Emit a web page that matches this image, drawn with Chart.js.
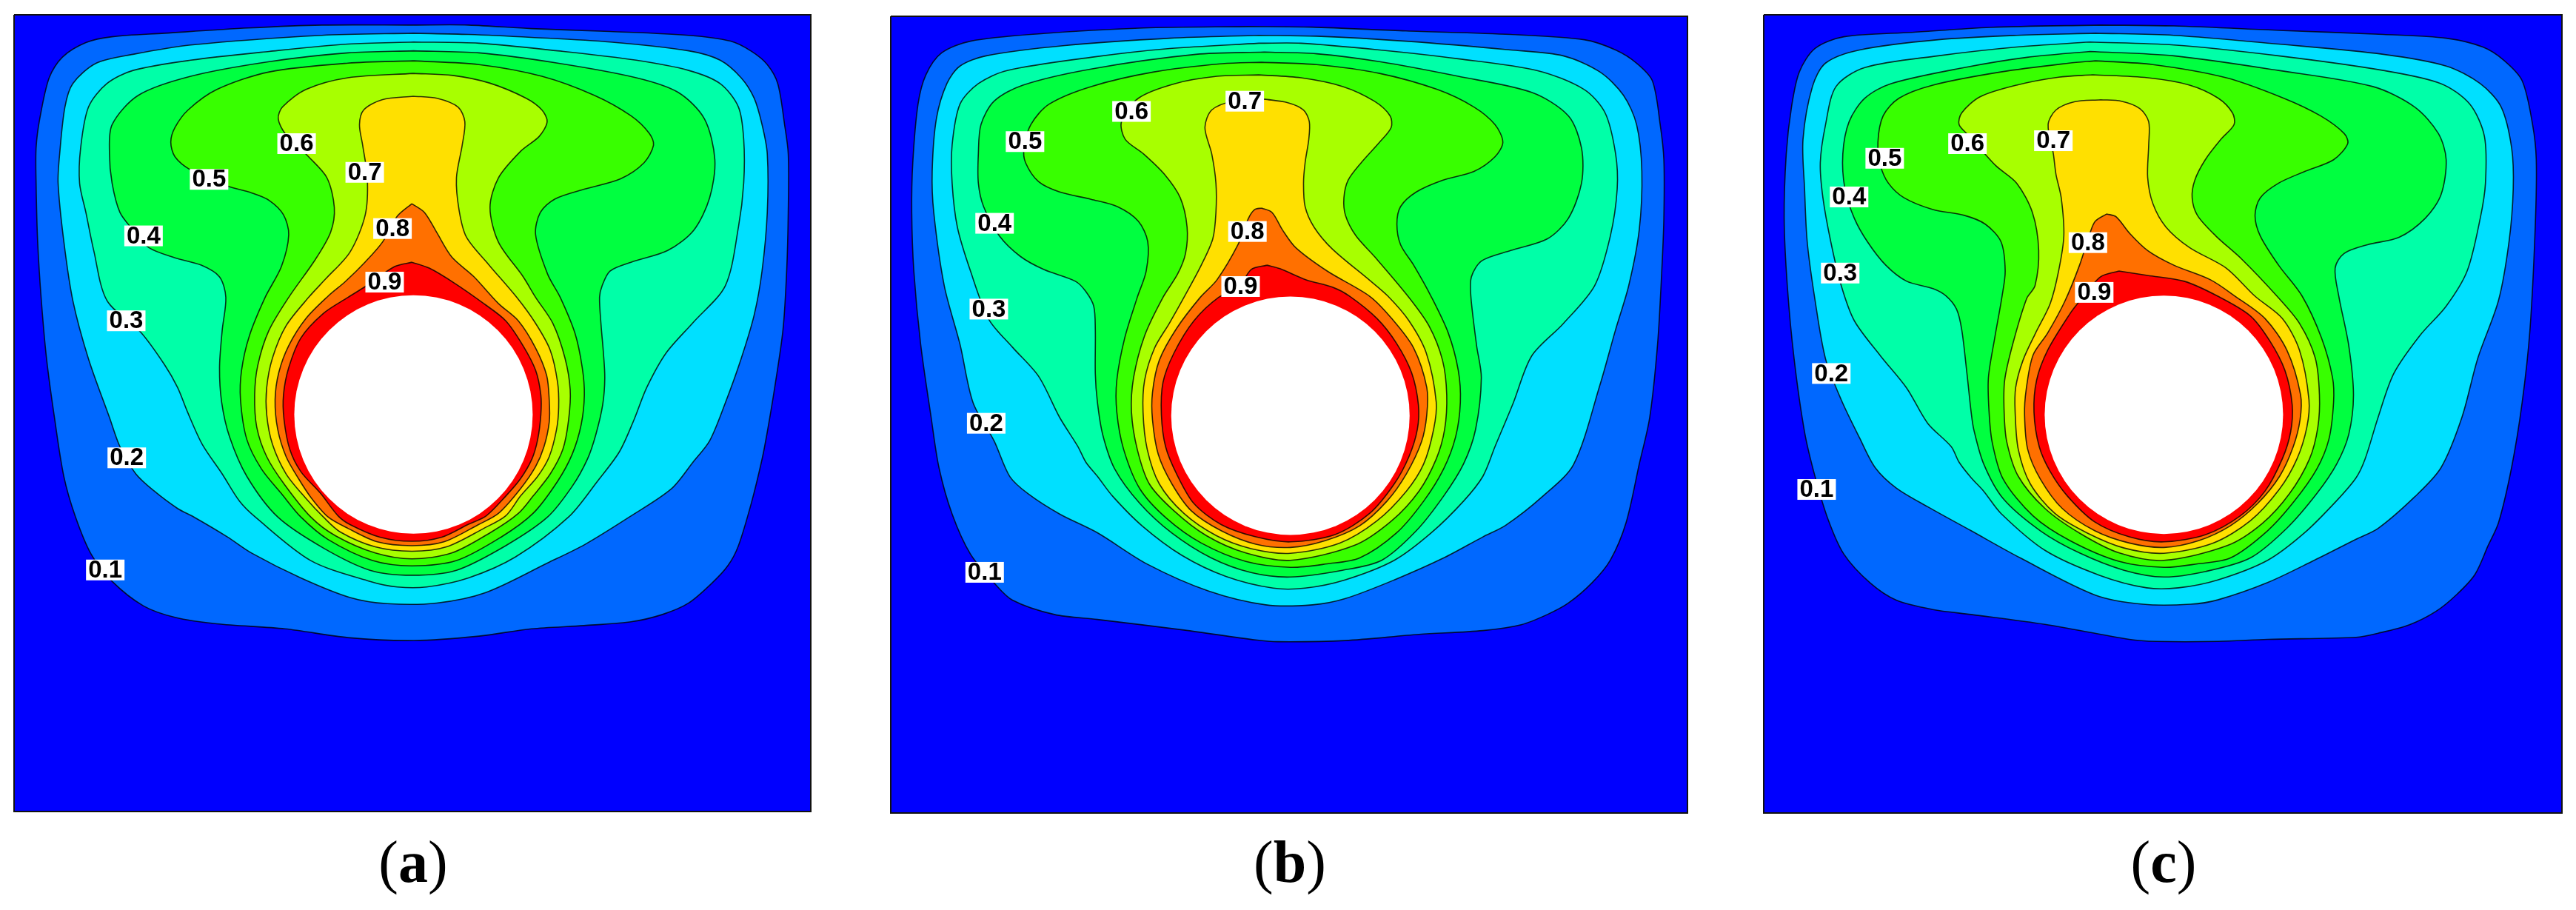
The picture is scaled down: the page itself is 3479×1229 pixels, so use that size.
<!DOCTYPE html>
<html><head><meta charset="utf-8">
<script src="https://cdn.jsdelivr.net/npm/chart.js@4"></script>
<style>
html,body{margin:0;padding:0;background:#fff;width:3479px;height:1229px;overflow:hidden}
canvas{position:absolute}
.cap{position:absolute;font-family:"Liberation Serif",serif;font-size:80px;line-height:1;text-align:center;color:#000;transform:translateX(-50%);white-space:nowrap}
</style></head><body>
<script>
const levels=["0.1","0.2","0.3","0.4","0.5","0.6","0.7","0.8","0.9"];
const backgroundColor="#0000ff";
const bandColors=["#0068ff","#00e0ff","#00ffa8","#00ff40","#38ff00","#a8ff00","#ffe000","#ff7000","#ff0000"];
const captions=["a","b","c"];

// Panel (a) contours, flat x,y lists
const a1=[775,60,880,60,1000,72,1150,82,1300,95,1380,115,1420,150,1450,195,1470,260,1483,400,1490,500,1490,700,1487,900,1480,1100,1464,1300,1450,1450,1440,1543,1420,1690,1395,1838,1375,1906,1345,1965,1300,2034,1250,2073,1190,2098,1100,2111,1000,2122,900,2147,775,2162,650,2152,530,2122,400,2105,320,2083,260,2044,200,1960,160,1867,130,1739,108,1602,90,1400,75,1200,65,1000,58,800,55,600,55,480,62,380,80,240,105,170,150,120,200,100,300,88,460,70,600,60,775,60];
const a2=[775,88,880,92,1000,102,1150,118,1300,148,1360,180,1400,240,1425,310,1440,400,1450,500,1450,700,1440,900,1425,1050,1400,1200,1370,1350,1340,1480,1309,1551,1267,1644,1187,1740,1102,1834,1031,1897,913,1998,819,2034,725,2036,654,2015,560,1948,466,1863,420,1808,356,1740,325,1711,280,1651,245,1592,215,1500,195,1400,155,1200,125,1000,108,800,97,600,100,500,110,340,125,260,170,190,240,160,350,128,600,95,775,88];
const a3=[775,118,900,122,1050,148,1200,180,1300,215,1360,260,1395,340,1405,450,1405,600,1395,750,1370,950,1309,1075,1257,1180,1220,1298,1196,1407,1168,1517,1126,1618,1071,1740,970,1876,880,1948,800,1979,744,1979,692,1960,579,1889,473,1740,443,1686,410,1593,372,1492,344,1382,325,1298,300,1220,255,1110,190,1000,165,830,150,700,138,600,140,480,155,340,190,260,240,215,350,180,500,150,650,125,775,118];
const a4=[775,148,900,155,1050,190,1200,240,1280,290,1330,380,1350,520,1340,650,1310,760,1260,830,1190,870,1150,900,1135,950,1130,990,1133,1087,1137,1171,1140,1264,1136,1357,1123,1458,1107,1542,1078,1635,1031,1740,951,1838,857,1922,772,1939,692,1922,603,1846,516,1740,457,1601,424,1466,409,1348,405,1230,410,1104,417,990,405,920,370,880,320,855,270,820,240,760,215,700,200,600,195,500,200,400,250,300,350,235,500,185,650,155,775,148];
const a5=[775,182,900,195,1020,235,1120,300,1190,370,1225,430,1233,470,1215,530,1170,585,1102,620,1045,654,1017,700,1008,776,1031,911,1055,990,1083,1112,1097,1230,1101,1323,1095,1424,1078,1525,1050,1618,1003,1728,942,1809,857,1889,772,1907,697,1889,612,1817,560,1740,523,1660,485,1576,457,1475,445,1340,447,1239,462,1121,492,990,523,885,537,776,527,708,499,658,466,633,420,610,350,555,320,510,312,460,320,410,345,350,400,280,500,220,650,190,775,182];
const a6=[775,225,850,232,920,258,990,310,1020,350,1030,390,1015,440,980,490,937,582,921,683,937,801,984,919,1008,990,1041,1079,1064,1197,1074,1306,1071,1408,1060,1509,1036,1593,1003,1669,975,1728,923,1792,848,1863,772,1883,702,1863,626,1804,579,1740,528,1627,495,1534,476,1433,472,1323,478,1222,499,1104,537,990,588,860,617,767,624,683,610,582,575,510,530,430,517,380,525,340,570,280,650,240,775,225];
const a7=[775,303,820,310,860,340,873,390,868,470,857,582,862,692,876,784,918,877,972,990,1008,1079,1036,1171,1050,1281,1052,1365,1048,1441,1034,1534,1012,1601,979,1669,951,1736,909,1779,838,1842,772,1857,702,1842,636,1792,603,1740,570,1677,532,1593,506,1492,495,1391,495,1298,506,1197,532,1087,575,990,607,928,654,835,683,708,687,582,678,470,672,400,680,350,715,315,775,303];
const a8=[772,670,796,700,819,767,848,852,890,919,937,1011,975,1070,1008,1163,1029,1256,1034,1340,1034,1416,1024,1500,1008,1568,979,1644,937,1728,899,1766,833,1825,772,1838,706,1825,650,1779,612,1740,580,1675,556,1610,532,1534,516,1441,511,1340,518,1247,537,1155,570,1062,612,986,645,936,683,869,716,801,744,713,772,670];
const a9=[772,870,805,890,852,940,909,1011,951,1070,984,1155,1008,1239,1018,1323,1018,1391,1012,1475,1001,1542,979,1610,951,1669,914,1736,880,1765,829,1809,772,1823,711,1809,654,1766,631,1736,598,1660,560,1585,539,1509,528,1407,527,1323,537,1230,560,1129,603,1045,650,990,683,953,739,885,772,870];
const aLabelX=[187,228,227,260,385,552,682,735,720];
const aLabelY=[1921,1538,1070,780,587,465,563,755,938];
const aAxisX=[13,1533], aAxisY=[25,2746], aHole=[775,1390];

// Panel (b) contours
const b1=[700,65,820,67,1000,80,1200,92,1340,110,1400,145,1440,190,1470,250,1485,400,1492,520,1492,720,1488,900,1480,1150,1465,1400,1445,1560,1420,1759,1390,1887,1355,1965,1310,2034,1270,2073,1220,2108,1147,2128,1025,2141,884,2162,756,2166,714,2160,577,2126,412,2090,330,2073,250,2024,215,1965,170,1867,135,1730,110,1572,95,1400,75,1150,62,900,58,700,60,530,70,330,85,230,115,155,170,115,300,90,500,70,700,65];
const b2=[720,95,830,98,1000,115,1200,145,1300,165,1370,220,1415,300,1440,400,1450,560,1445,760,1425,950,1400,1100,1370,1290,1320,1560,1260,1671,1190,1769,1147,1808,1072,1880,978,1955,884,2019,822,2040,733,2040,624,1993,507,1901,412,1794,340,1730,280,1661,245,1602,215,1480,175,1350,150,1150,120,950,100,700,97,560,105,380,125,260,150,200,200,165,350,130,550,105,720,95];
const b3=[720,122,800,122,950,145,1100,175,1250,215,1340,280,1380,360,1400,500,1403,620,1390,780,1360,950,1300,1080,1240,1190,1205,1350,1170,1500,1147,1601,1110,1686,1048,1795,978,1888,884,1955,808,1983,747,1983,657,1943,573,1871,497,1770,441,1669,412,1601,390,1553,375,1500,340,1400,300,1260,250,1160,205,1065,170,900,145,750,135,600,135,470,150,330,185,260,240,215,400,170,550,140,720,122];
const b4=[730,152,830,158,950,185,1100,235,1240,290,1310,370,1335,480,1335,600,1310,720,1270,790,1200,830,1145,865,1125,920,1124,986,1135,1155,1144,1264,1133,1441,1110,1559,1072,1669,1020,1787,954,1888,879,1922,780,1945,705,1930,629,1880,554,1795,493,1694,445,1576,422,1458,412,1348,408,1250,408,1100,405,1020,390,970,370,935,310,895,265,850,225,780,195,680,185,600,185,500,190,400,215,320,270,265,400,210,600,160,730,152];
const b5=[725,187,830,195,950,225,1060,280,1130,340,1170,400,1185,460,1170,510,1130,560,1070,590,1020,630,990,680,983,740,990,810,1015,880,1048,986,1081,1112,1100,1239,1104,1348,1095,1466,1072,1576,1034,1686,982,1795,912,1880,850,1900,780,1912,695,1892,610,1829,544,1745,493,1644,462,1509,449,1382,449,1273,464,1129,488,990,505,900,508,800,490,730,450,680,400,655,340,630,300,595,275,530,272,480,285,400,320,330,400,270,520,220,650,192,725,187];
const b6=[720,230,800,240,880,270,940,320,970,370,972,410,950,460,915,530,890,590,882,650,885,710,905,780,940,850,1004,986,1044,1087,1070,1205,1078,1323,1074,1441,1058,1542,1025,1652,973,1753,902,1837,780,1888,695,1863,620,1804,558,1719,511,1627,488,1509,477,1382,481,1264,502,1121,537,990,565,910,580,840,583,750,570,650,540,570,500,500,465,450,458,390,490,310,560,260,640,235,720,230];
const b7=[730,313,775,325,805,350,816,390,815,450,808,530,805,600,808,680,825,750,860,825,930,930,966,986,1006,1070,1039,1180,1058,1348,1053,1441,1034,1559,1001,1652,945,1753,874,1829,780,1864,705,1848,639,1804,577,1728,530,1627,507,1509,499,1382,502,1273,521,1163,549,1079,577,990,610,880,632,790,638,700,638,600,630,500,617,410,630,350,670,320,730,313];
const b8=[725,685,745,700,765,760,790,820,850,900,931,986,973,1062,1015,1163,1040,1298,1040,1391,1030,1483,1001,1593,964,1686,912,1770,846,1821,780,1844,714,1833,648,1787,591,1719,554,1627,528,1526,517,1408,517,1315,530,1205,563,1096,608,990,640,930,680,810,700,720,712,690,725,685];
const b9=[735,880,760,892,810,930,860,955,893,986,945,1062,982,1146,1011,1247,1024,1357,1022,1441,1006,1534,978,1627,931,1728,865,1800,780,1825,714,1808,648,1766,596,1694,563,1593,542,1500,534,1391,537,1281,558,1180,596,1070,643,990,680,960,705,895,735,880];
const bLabelX=[197,200,205,216,274,477,693,698,685];
const bLabelY=[1929,1420,1030,737,458,355,320,765,953];
const bAxisX=[18,1537], bAxisY=[30,2751], bHole=[780,1394];

// Panel (c) contours
const c1=[660,60,800,63,1000,78,1200,92,1320,105,1390,135,1430,180,1465,250,1485,400,1492,520,1490,750,1480,1100,1465,1350,1445,1570,1420,1759,1400,1838,1375,1936,1340,2005,1300,2063,1250,2108,1190,2137,1148,2151,979,2158,884,2165,766,2165,715,2158,554,2107,413,2073,340,2056,270,2024,220,1965,170,1867,140,1749,115,1602,95,1450,75,1200,62,950,56,720,60,500,70,340,85,220,115,140,170,100,300,85,450,68,660,60];
const c2=[650,88,800,95,1000,125,1200,160,1320,200,1385,260,1425,340,1445,480,1448,620,1440,800,1420,1000,1380,1200,1350,1400,1310,1572,1260,1671,1190,1779,1148,1816,1068,1888,979,1964,884,2023,832,2038,741,2038,649,2006,507,1880,413,1787,330,1705,270,1641,230,1572,200,1470,165,1340,135,1200,115,1000,100,800,95,620,92,450,110,270,135,190,200,145,350,110,500,95,650,88];
const c3=[640,118,800,128,1000,165,1200,215,1310,260,1365,330,1393,440,1395,600,1385,720,1360,900,1320,1020,1270,1120,1220,1250,1190,1400,1165,1543,1148,1606,1110,1686,1049,1795,979,1888,884,1955,809,1982,748,1982,658,1939,554,1854,470,1728,437,1652,413,1606,390,1553,375,1500,330,1420,290,1300,240,1190,190,1070,165,950,145,800,130,650,125,530,135,400,155,270,210,205,350,165,500,135,640,118];
const c4=[640,150,800,165,1000,215,1180,270,1260,340,1305,430,1320,520,1310,640,1280,720,1230,785,1170,810,1125,840,1108,890,1115,986,1134,1155,1143,1323,1134,1458,1111,1559,1073,1660,1016,1778,946,1880,861,1926,781,1945,705,1922,620,1863,545,1787,474,1677,437,1559,418,1441,413,1382,405,1250,395,1100,385,1030,365,985,340,960,290,935,250,880,215,800,190,720,172,620,168,500,180,390,210,310,260,260,400,205,520,170,640,150];
const c5=[650,182,760,195,900,240,1010,310,1080,370,1125,430,1132,465,1105,520,1050,560,1000,600,965,650,955,710,965,780,1000,880,1045,986,1082,1129,1103,1264,1105,1348,1096,1475,1073,1576,1030,1686,979,1787,908,1880,845,1900,781,1912,696,1892,602,1821,531,1736,474,1610,453,1483,447,1374,446,1264,458,1129,472,986,478,900,470,800,440,740,400,710,340,690,285,650,255,600,240,540,235,460,245,370,275,310,340,265,470,220,600,190,650,182];
const c6=[645,230,750,240,830,265,885,310,912,360,915,400,890,450,860,520,840,590,835,650,845,710,880,780,930,860,997,986,1040,1079,1070,1197,1078,1323,1075,1433,1059,1542,1021,1660,969,1762,903,1837,781,1888,696,1863,620,1795,554,1711,503,1601,481,1483,476,1382,477,1273,493,1146,519,994,535,950,542,830,530,700,500,600,460,540,410,440,390,400,395,360,430,305,500,265,580,238,645,230];
const c7=[660,315,700,320,735,345,752,390,752,470,750,580,760,670,785,750,830,820,900,890,955,986,1007,1062,1040,1171,1058,1340,1054,1433,1035,1542,1002,1644,946,1753,875,1829,781,1864,705,1846,635,1795,573,1728,526,1627,503,1509,497,1382,498,1298,512,1205,536,1112,564,1011,580,900,590,780,585,650,575,570,570,500,560,400,575,350,610,322,660,315];
const c8=[672,705,690,715,715,770,750,830,800,880,870,930,917,986,974,1062,1016,1171,1042,1323,1041,1408,1028,1500,1002,1601,960,1694,908,1770,847,1821,781,1844,715,1829,649,1787,587,1711,545,1610,521,1509,515,1391,518,1306,531,1188,559,1112,592,1003,620,880,640,770,650,730,672,705];
const c9=[695,900,750,915,820,935,884,986,946,1053,983,1138,1012,1239,1026,1357,1023,1450,1007,1542,974,1652,927,1736,861,1800,781,1825,715,1808,649,1757,597,1669,564,1585,543,1500,533,1382,538,1273,559,1171,602,1045,620,1003,660,920,695,900];
const cLabelX=[118,146,163,180,248,406,570,636,648];
const cLabelY=[1646,1250,907,647,515,465,455,803,973];
const cAxisX=[17,1541], cAxisY=[25,2751], cHole=[781,1391];

function pts(f){const o=[];for(let i=0;i<f.length;i+=2)o.push({x:f[i],y:f[i+1]});return o;}

const contourFill={id:'contourFill',
  beforeDatasetDraw(chart,args){
    const ds=chart.data.datasets[args.index];
    if(!ds.closedArea)return;
    const line=chart.getDatasetMeta(args.index).dataset;
    const ctx=chart.ctx;
    line.updateControlPoints(chart.chartArea);
    ctx.save();ctx.beginPath();line.path(ctx);ctx.closePath();
    ctx.fillStyle=ds.closedArea;ctx.fill();ctx.restore();
  }};
const contourLabels={id:'contourLabels',
  afterDatasetsDraw(chart){
    const {ctx,scales:{x,y}}=chart, o=chart.options.plugins.contourLabels;
    ctx.save();ctx.font='bold 33px "Liberation Sans"';ctx.textAlign='center';ctx.textBaseline='middle';
    o.xs.forEach((v,i)=>{
      const px=x.getPixelForValue(v),py=y.getPixelForValue(o.ys[i]);
      ctx.fillStyle='#fff';ctx.fillRect(px-26,py-14,52,28);
      ctx.fillStyle='#000';ctx.fillText(levels[i],px,py+1);
    });
    ctx.restore();
  }};

function panel(left,top,size,contours,axisX,axisY,hole,lx,ly,cap,capX){
  const pad=3;
  const cv=document.createElement('canvas');
  cv.width=size+2*pad;cv.height=size+2*pad;
  cv.style.left=(left-pad)+'px';cv.style.top=(top-pad)+'px';
  document.body.appendChild(cv);
  const frame=[axisX[0],axisY[0],axisX[1],axisY[0],axisX[1],axisY[1],axisX[0],axisY[1],axisX[0],axisY[0]];
  const datasets=[{label:'domain',data:pts(frame),showLine:true,tension:0,pointRadius:0,borderWidth:2,borderColor:'#111',closedArea:backgroundColor,order:20,clip:false}];
  contours.forEach((c,i)=>datasets.push({label:levels[i],data:pts(c),showLine:true,tension:0.3,pointRadius:0,borderWidth:1.6,borderColor:'rgba(0,0,0,0.8)',closedArea:bandColors[i],order:10-i}));
  datasets.push({label:'cylinder',data:[{x:hole[0],y:hole[1]}],showLine:false,pointRadius:161,pointHoverRadius:161,pointBackgroundColor:'#fff',pointBorderWidth:0,order:0,clip:false});
  new Chart(cv,{type:'scatter',data:{datasets},plugins:[contourFill,contourLabels],options:{
    responsive:false,animation:false,layout:{padding:pad,autoPadding:false},events:[],
    plugins:{legend:{display:false},tooltip:{enabled:false},contourLabels:{xs:lx,ys:ly}},
    scales:{x:{type:'linear',display:false,min:axisX[0],max:axisX[1]},
            y:{type:'linear',display:false,reverse:true,min:axisY[0],max:axisY[1]}}
  }});
  const d=document.createElement('div');d.className='cap';
  d.style.left=capX+'px';d.style.top='1124px';
  d.innerHTML='(<b>'+cap+'</b>)';
  document.body.appendChild(d);
}
panel(19,20,1076,[a1,a2,a3,a4,a5,a6,a7,a8,a9],aAxisX,aAxisY,aHole,aLabelX,aLabelY,captions[0],558);
panel(1203,22,1076,[b1,b2,b3,b4,b5,b6,b7,b8,b9],bAxisX,bAxisY,bHole,bLabelX,bLabelY,captions[1],1742);
panel(2382,20,1078,[c1,c2,c3,c4,c5,c6,c7,c8,c9],cAxisX,cAxisY,cHole,cLabelX,cLabelY,captions[2],2922);
</script>
</body></html>
